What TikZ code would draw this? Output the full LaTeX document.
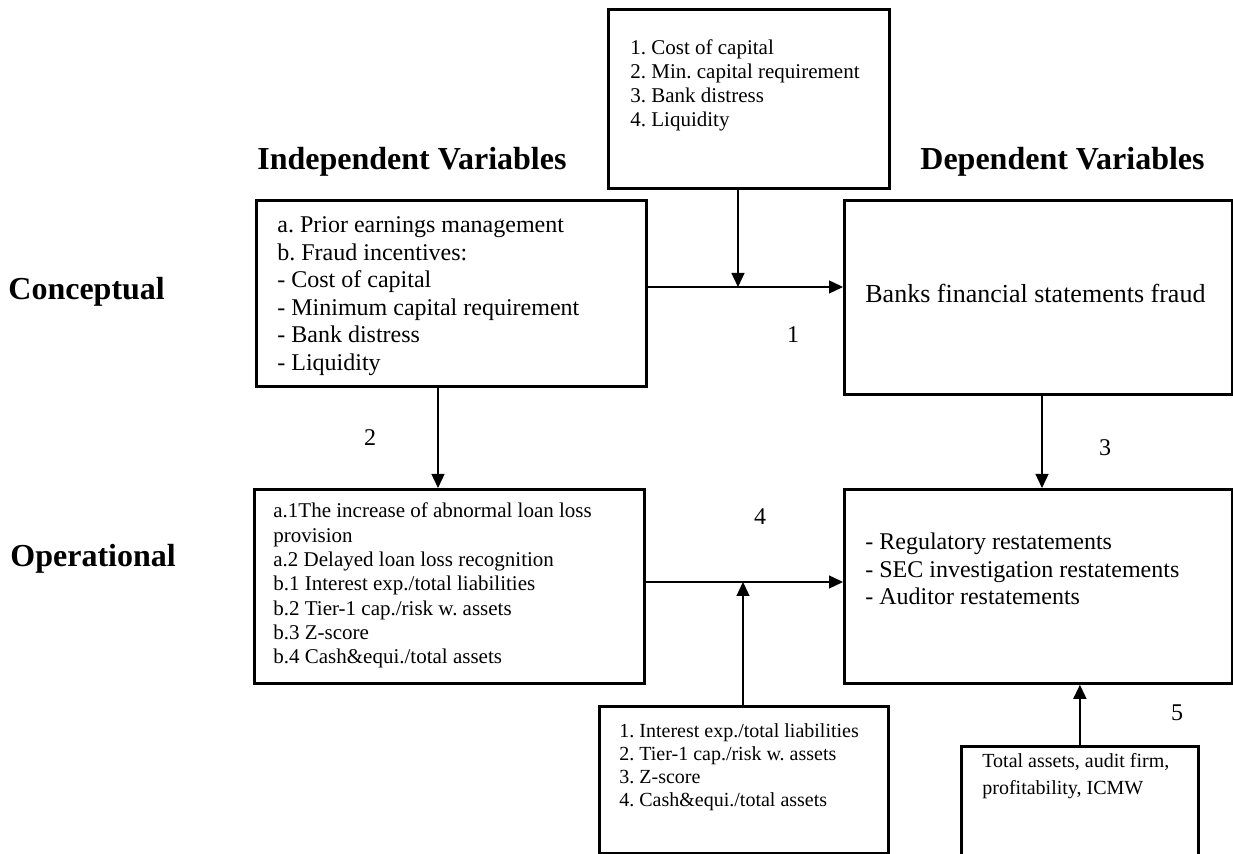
\documentclass[tikz,border=0pt]{standalone}
\usepackage{fontspec}
\setmainfont{Liberation Serif}
\usetikzlibrary{arrows.meta}
\frenchspacing
\newcommand\txtlines[1]{\begin{tabular}[t]{@{}l@{}}#1\end{tabular}}
\begin{document}
\begin{tikzpicture}[x=0.5pt,y=-0.5pt,
  box/.style={draw, line width=1.4pt, inner sep=0pt, anchor=north west},
  conn/.style={line width=0.7pt, -{Triangle[length=7pt,width=6.5pt]}},
  txt/.style={anchor=base west, inner sep=0pt},
  head/.style={anchor=base west, inner sep=0pt, font=\fontsize{16}{18}\selectfont\bfseries},
  num/.style={inner sep=0pt, font=\fontsize{12}{14}\selectfont}
]
\useasboundingbox (0,0) rectangle (1233,854);
% boxes
\node[box, minimum width=140.5pt, minimum height=89.5pt] (T) at (607,8) {};
\node[box, minimum width=195pt, minimum height=93pt] (LC) at (255,199) {};
\node[box, minimum width=194pt, minimum height=97pt] (RC) at (843,199) {};
\node[box, minimum width=195pt, minimum height=97pt] (LO) at (253,488) {};
\node[box, minimum width=194pt, minimum height=97pt] (RO) at (843,488) {};
\node[box, minimum width=144.5pt, minimum height=73.5pt] (BM) at (598,705) {};
\node[box, minimum width=118.5pt, minimum height=60pt] (BR) at (960,745) {};
% texts
\node[txt, font=\fontsize{10.5}{12}\selectfont] (tT) at (630,55)
  {\txtlines{1. Cost of capital\\2. Min. capital requirement\\3. Bank distress\\4. Liquidity}};
\node[txt, font=\fontsize{12}{13.75}\selectfont] (tLC) at (277,233)
  {\txtlines{a. Prior earnings management\\b. Fraud incentives:\\- Cost of capital\\- Minimum capital requirement\\- Bank distress\\- Liquidity}};
\node[txt, font=\fontsize{13}{15}\selectfont] (tRC) at (865,303) {Banks financial statements fraud};
\node[txt, font=\fontsize{10.5}{12.15}\selectfont] (tLO) at (273,518)
  {\txtlines{a.1The increase of abnormal loan loss\\provision\\a.2 Delayed loan loss recognition\\b.1 Interest exp./total liabilities\\b.2 Tier-1 cap./risk w. assets\\b.3 Z-score\\b.4 Cash\&equi./total assets}};
\node[txt, font=\fontsize{12}{13.75}\selectfont] (tRO) at (865,550)
  {\txtlines{- Regulatory restatements\\- SEC investigation restatements\\- Auditor restatements}};
\node[txt, font=\fontsize{10}{11.5}\selectfont] (tBM) at (619,738)
  {\txtlines{1. Interest exp./total liabilities\\2. Tier-1 cap./risk w. assets\\3. Z-score\\4. Cash\&equi./total assets}};
\node[txt, font=\fontsize{10}{13.5}\selectfont] (tBR) at (982,768)
  {\txtlines{Total assets, audit firm,\\profitability, ICMW}};
% headings
\node[head] (hI) at (257,170) {Independent Variables};
\node[head] (hD) at (920,170) {Dependent Variables};
\node[head] (hC) at (8,300) {Conceptual};
\node[head] (hO) at (10,567) {Operational};
% connector junctions
\coordinate (j1) at (738,287);
\coordinate (j4) at (743,582);
% connectors
\draw[conn] (LC.east |- j1) -- (RC.west |- j1);
\draw[conn] (T.south -| j1) -- (j1);
\draw[conn] (LC.south -| 438,0) -- (LO.north -| 438,0);
\draw[conn] (RC.south -| 1042,0) -- (RO.north -| 1042,0);
\draw[conn] (LO.east |- j4) -- (RO.west |- j4);
\draw[conn] (BM.north -| j4) -- (j4);
\draw[conn] (BR.north) -- (RO.south -| BR.north);
% numbers
\node[num] (n1) at (793,335) {1};
\node[num] (n2) at (370,438) {2};
\node[num] (n3) at (1105,448) {3};
\node[num] (n4) at (760,517) {4};
\node[num] (n5) at (1177,713) {5};
\end{tikzpicture}
\end{document}
